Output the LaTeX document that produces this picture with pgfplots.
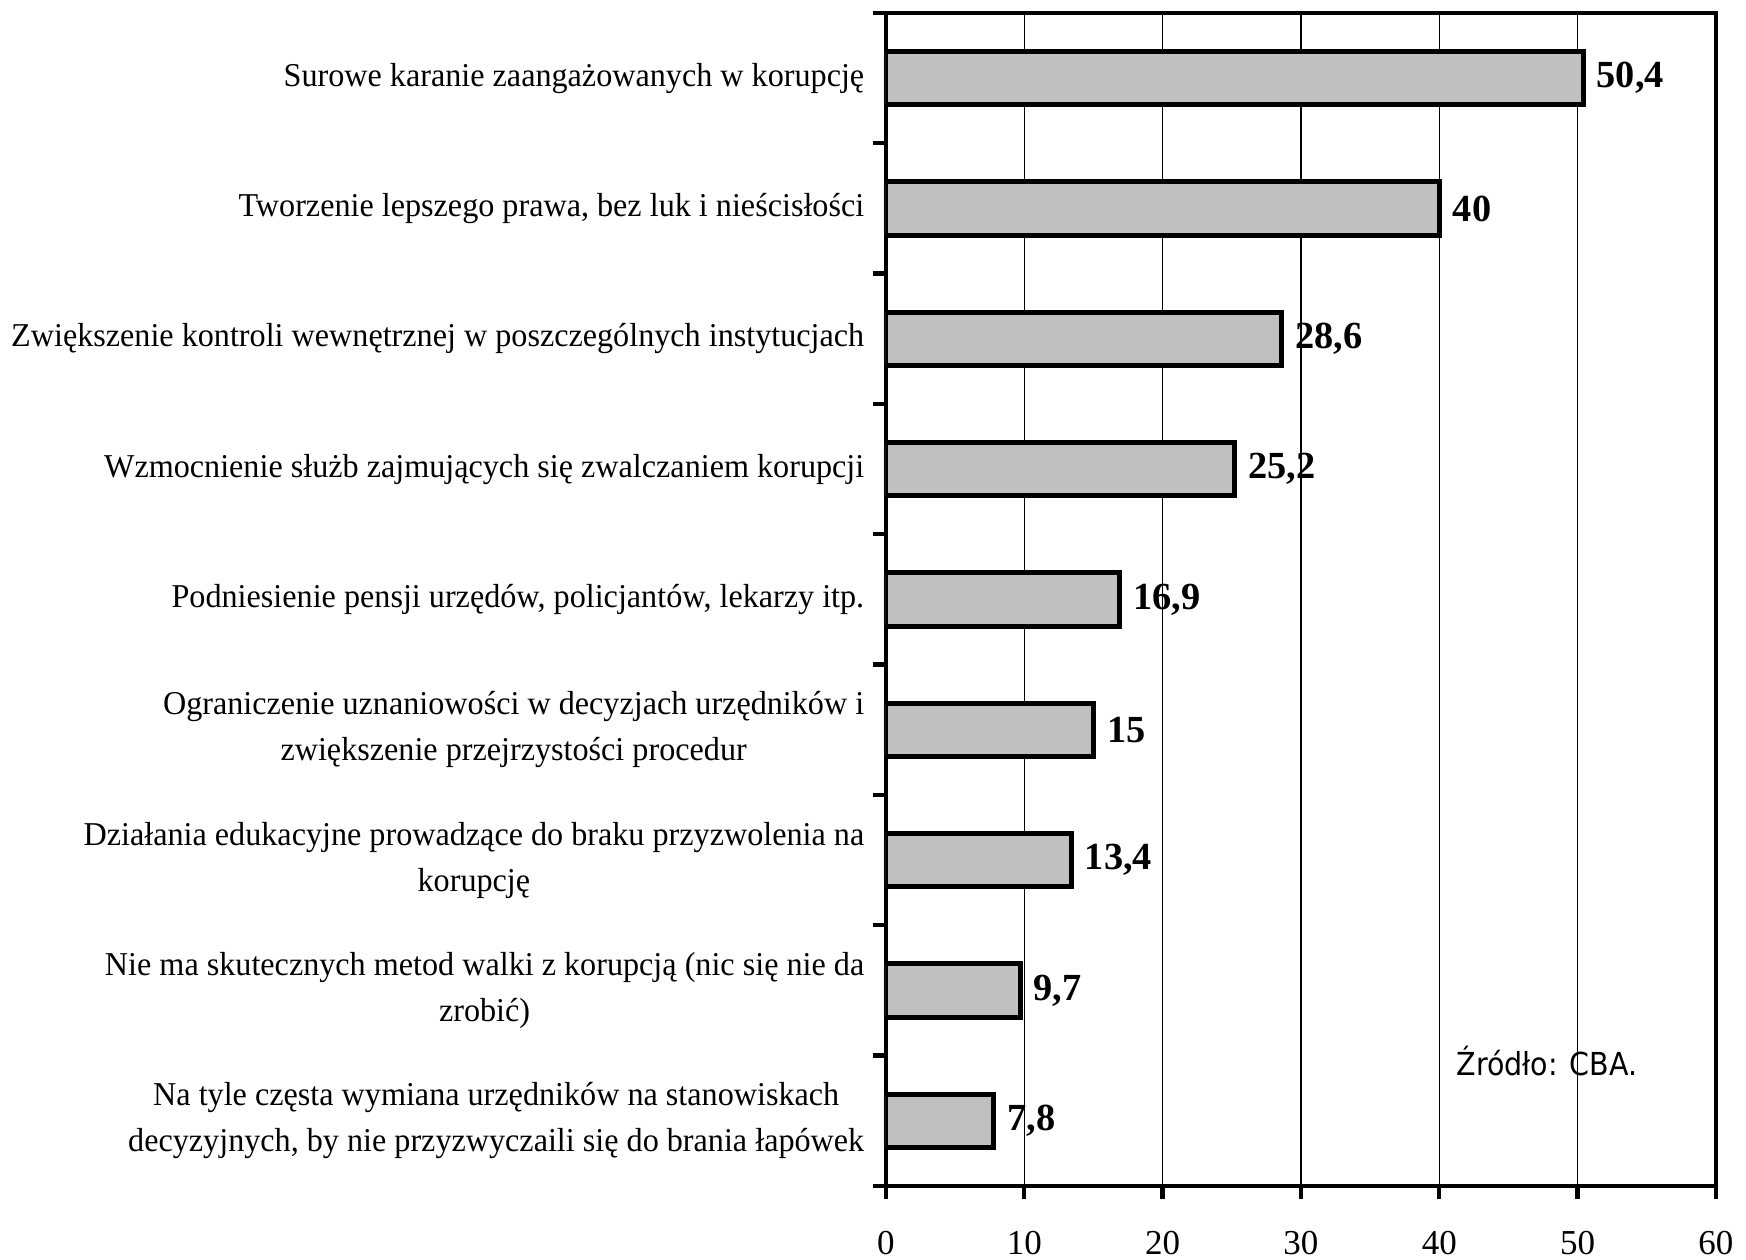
\documentclass[border=0pt]{standalone}
\usepackage{pgfplots}
\pgfplotsset{compat=1.18}
\usepackage{fontspec}
\setmainfont{Liberation Serif}
\newfontfamily\lblfont{Liberation Serif}[FakeStretch=0.965]
\newfontfamily\srcfont{DejaVu Sans Condensed}
\definecolor{barGray}{RGB}{192,192,192}

\begin{document}
\begin{tikzpicture}
\begin{axis}[
    scale only axis,
    width=249pt,
    height=351.9pt,
    xbar,
    bar width=0.41,
    xmin=0, xmax=60,
    xtick={0,10,...,60},
    ymin=-0.5, ymax=8.5,
    y dir=reverse,
    ytick={-0.5,0.5,...,8.5},
    yticklabels={},
    extra y ticks={0,...,8},
    extra y tick labels={
        {Surowe karanie zaangażowanych w korupcję},
        {Tworzenie lepszego prawa, bez luk i nieścisłości},
        {Zwiększenie kontroli wewnętrznej w poszczególnych instytucjach},
        {Wzmocnienie służb zajmujących się zwalczaniem korupcji},
        {Podniesienie pensji urzędów, policjantów, lekarzy itp.},
        {Ograniczenie uznaniowości w decyzjach urzędników i\\zwiększenie przejrzystości procedur},
        {Działania edukacyjne prowadzące do braku przyzwolenia na\\korupcję},
        {Nie ma skutecznych metod walki z korupcją (nic się nie da\\zrobić)},
        {Na tyle częsta wymiana urzędników na stanowiskach\\decyzyjnych, by nie przyzwyczaili się do brania łapówek}},
    extra y tick style={major tick length=0pt, grid=none},
    yticklabel style={align=center, font=\lblfont\fontsize{10}{13.8}\selectfont, xshift=-3pt},
    xticklabel style={font=\fontsize{10.5}{12}\selectfont, yshift=-6pt},
    xtick pos=left,
    ytick pos=left,
    tick align=outside,
    major tick length=4pt,
    tick style={black, line width=1.3pt},
    axis line style={line width=1.3pt},
    xmajorgrids,
    grid style={black, line width=0.4pt},
    /pgf/number format/.cd, use comma, assume math mode=true,
    /pgfplots/.cd,
    nodes near coords,
    nodes near coords style={font=\bfseries\fontsize{11.5}{13}\selectfont},
]
\addplot[fill=barGray, draw=black, line width=1.5pt] coordinates {
    (50.4,0) (40,1) (28.6,2) (25.2,3) (16.9,4)
    (15,5) (13.4,6) (9.7,7) (7.8,8)
};
\node[anchor=west, inner sep=0pt, font=\srcfont\fontsize{9.5}{11}\selectfont] at (axis cs:41.2,7.54) {Źródło: CBA.};
\end{axis}
\pgfresetboundingbox
\path ([shift={(-265.8pt,-22.2pt)}]current axis.south west) rectangle ([shift={(9pt,3.9pt)}]current axis.north east);
\end{tikzpicture}
\end{document}
